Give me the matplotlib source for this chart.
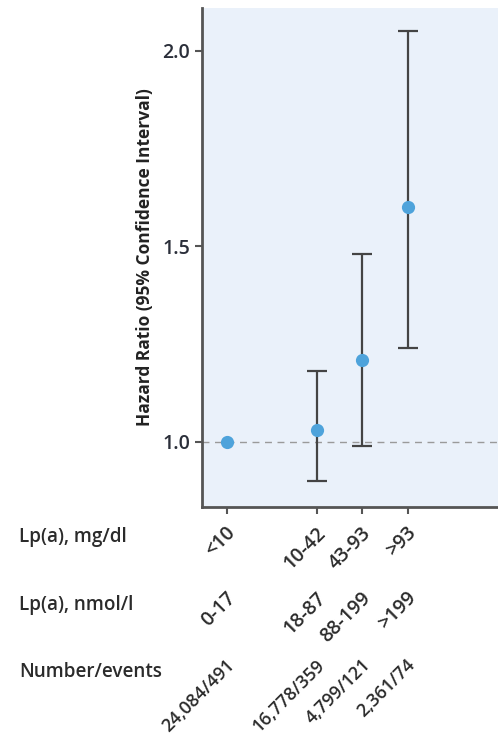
import matplotlib
matplotlib.use("Agg")
import matplotlib.pyplot as plt
from matplotlib.transforms import blended_transform_factory

plt.rcParams['font.family'] = ['Open Sans', 'DejaVu Sans']

# Data
positions = [1, 3, 4, 5]
hr = [1.00, 1.03, 1.21, 1.60]
ci_low = [1.00, 0.90, 0.99, 1.24]
ci_high = [1.00, 1.18, 1.48, 2.05]
labels_mgdl = ["<10", "10-42", "43-93", ">93"]
labels_nmol = ["0-17", "18-87", "88-199", ">199"]
labels_events = ["24,084/491", "16,778/359", "4,799/121", "2,361/74"]
row_titles = ["Lp(a), mg/dl", "Lp(a), nmol/l", "Number/events"]
ylabel = "Hazard Ratio (95% Confidence Interval)"
yticks = [1.0, 1.5, 2.0]

W, H = 498, 742
fig = plt.figure(figsize=(W / 100, H / 100), dpi=100)
ax = fig.add_axes([202 / W, 1 - 507 / H, 1 - 202 / W, (507 - 8) / H])
ax.set_facecolor('#EAF1FA')

ax.axhline(1.0, color='#9a9a9a', lw=1.0, ls=(0, (5, 4)), zorder=1)

err_x = positions[1:]
err_y = hr[1:]
lower = [h - l for h, l in zip(hr[1:], ci_low[1:])]
upper = [u - h for h, u in zip(hr[1:], ci_high[1:])]
ax.errorbar(err_x, err_y, yerr=[lower, upper], fmt='none', ecolor='#444444',
            elinewidth=1.6, capsize=7, capthick=1.6, zorder=2)
ax.plot(positions, hr, 'o', color='#4EA3DB', markersize=9.5, zorder=3, markeredgewidth=0)

ax.set_xlim(0.455, 7.0)
ax.set_ylim(0.833, 2.109)
ax.set_yticks(yticks)
ax.set_yticklabels([f"{v:.1f}" for v in yticks], fontsize=14, fontweight='semibold',
                   color='#2b2f3a')
ax.set_xticks(positions)
ax.set_xticklabels([])
ax.tick_params(axis='both', length=5, width=1.5, color='#555555', direction='out')
for s in ['top', 'right']:
    ax.spines[s].set_visible(False)
for s in ['left', 'bottom']:
    ax.spines[s].set_color('#555555')
    ax.spines[s].set_linewidth(2)

ax.set_ylabel(ylabel, fontsize=12.5, fontweight='bold', color='#222222', labelpad=6)

# Category label rows below the axis
trans = blended_transform_factory(ax.transData, fig.transFigure)
row_y = [1 - 523 / H, 1 - 588 / H, 1 - 656 / H]
row_fs = [14.0, 14.0, 13.0]
for rows, yy, fs in zip([labels_mgdl, labels_nmol, labels_events], row_y, row_fs):
    for xp, lab in zip(positions, rows):
        ax.text(xp - 0.03, yy, lab, transform=trans, rotation=45, ha='right', va='top',
                rotation_mode='anchor', fontsize=fs, fontweight='semibold',
                color='#2b2b2b', clip_on=False)

title_y = [1 - 537 / H, 1 - 605 / H, 1 - 672 / H]
for t, yy in zip(row_titles, title_y):
    fig.text(19 / W, yy, t, ha='left', va='center', fontsize=13.6, fontweight='semibold',
             color='#2b2b2b')

fig.savefig('out.png', dpi=100)
